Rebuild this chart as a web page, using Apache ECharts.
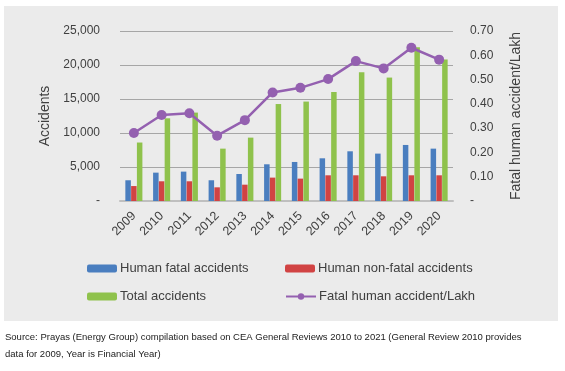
<!DOCTYPE html>
<html><head><meta charset="utf-8">
<script src="https://cdn.jsdelivr.net/npm/echarts@6/dist/echarts.min.js"></script>
<style>html,body{margin:0;padding:0;background:#fff}#c{width:565px;height:371px}</style>
</head><body><div id="c"></div>
<script>
const years = ['2009','2010','2011','2012','2013','2014','2015','2016','2017','2018','2019','2020'];
const fatal = [3050, 4170, 4320, 3050, 3970, 5400, 5740, 6280, 7310, 6970, 8240, 7700];
const nonFatal = [2200, 2900, 2900, 2010, 2400, 3440, 3290, 3780, 3780, 3630, 3780, 3780];
const total = [8600, 12160, 13000, 7700, 9320, 14260, 14620, 16030, 18930, 18150, 22600, 20800];
const perLakh = [0.28, 0.354, 0.361, 0.269, 0.333, 0.447, 0.466, 0.502, 0.576, 0.546, 0.631, 0.582];
const names = ['Human fatal accidents','Human non-fatal accidents','Total accidents','Fatal human accident/Lakh'];
const sourceLines = ['Source: Prayas (Energy Group) compilation based on CEA General Reviews 2010 to 2021 (General Review 2010 provides','data for 2009, Year is Financial Year)'];

const FONT = 'Liberation Sans';
const TXT = '#404040';
const colors = ['#4a7ebf','#d14343','#8fc24c','#9460b0'];
const chart = echarts.init(document.getElementById('c'), null, {renderer:'canvas'});
function leg(i, left, top){
  return {data:[names[i]], left:left, top:top, itemWidth:30, itemHeight:8, itemGap:0,
    textStyle:{fontFamily:FONT, fontSize:13, color:TXT, padding:[0,0,0,-2]}, padding:0, selectedMode:false};
}
chart.setOption({
  backgroundColor:'#fff',
  animation:false,
  textStyle:{fontFamily:FONT},
  graphic:[
    {type:'rect', shape:{x:4,y:6,width:554,height:315}, style:{fill:'#ebebeb'}, z:-10},
    {type:'text', left:5, top:332, style:{text:sourceLines[0], fontFamily:FONT, fontSize:9.5, fill:'#222'}},
    {type:'text', left:5, top:349, style:{text:sourceLines[1], fontFamily:FONT, fontSize:9.5, fill:'#222'}}
  ],
  grid:{left:120, right:112, top:31, bottom:170, containLabel:false},
  legend:[leg(0,87,262), leg(1,285,262), leg(2,87,290), leg(3,285,290)],
  xAxis:{type:'category', data:years,
    axisLine:{lineStyle:{color:'#bfbfbf', width:2}}, axisTick:{show:false},
    axisLabel:{rotate:45, fontFamily:FONT, fontSize:12.5, color:TXT, margin:13}},
  yAxis:[
    {type:'value', min:0, max:25000, interval:5000, name:'Accidents', nameLocation:'middle', nameGap:63,
     nameTextStyle:{fontFamily:FONT, fontSize:14, color:TXT},
     axisLine:{show:false}, axisTick:{show:false},
     splitLine:{lineStyle:{color:'#a6a6a6', width:1}},
     axisLabel:{fontFamily:FONT, fontSize:12, color:TXT, margin:20,
       formatter:v=> v===0 ? '-' : v.toLocaleString('en-US')}},
    {type:'value', min:0, max:0.7, interval:0.1, name:'Fatal human accident/Lakh', nameLocation:'middle', nameGap:56,
     nameTextStyle:{fontFamily:FONT, fontSize:14, color:TXT},
     axisLine:{show:false}, axisTick:{show:false}, splitLine:{show:false},
     axisLabel:{fontFamily:FONT, fontSize:12, color:TXT, margin:17,
       formatter:v=> v===0 ? '-' : v.toFixed(2)}}
  ],
  series:[
    {name:names[0], type:'bar', data:fatal, barWidth:5.5, barGap:'5%', itemStyle:{color:colors[0]}},
    {name:names[1], type:'bar', data:nonFatal, barWidth:5.5, barGap:'5%', itemStyle:{color:colors[1]}},
    {name:names[2], type:'bar', data:total, barWidth:5.5, barGap:'5%', itemStyle:{color:colors[2]}},
    {name:names[3], type:'line', yAxisIndex:1, data:perLakh, symbol:'circle', symbolSize:10,
     lineStyle:{color:colors[3], width:2.5}, itemStyle:{color:colors[3]}, z:5}
  ]
});
</script></body></html>
